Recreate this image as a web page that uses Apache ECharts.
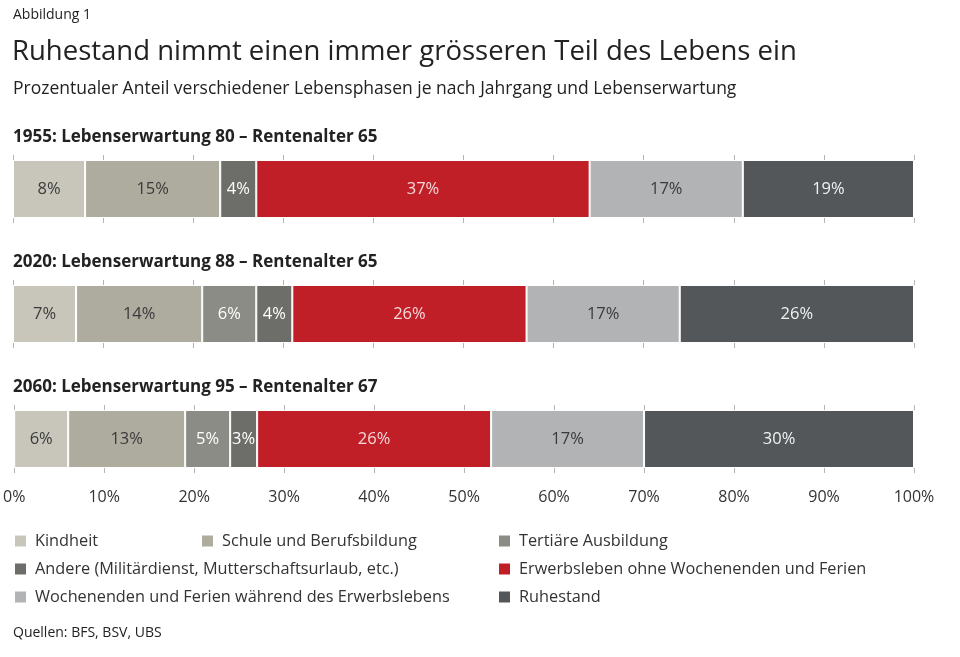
<!DOCTYPE html>
<html>
<head>
<meta charset="utf-8">
<script src="https://cdn.jsdelivr.net/npm/echarts@6/dist/echarts.min.js"></script>
<style>
    html, body { margin: 0; padding: 0; background: #fff; }
    #chart { width: 960px; height: 657px; }
</style>
</head>
<body>
<div id="chart"></div>
<script>
// Daten
var phases = [
    'Kindheit',
    'Schule und Berufsbildung',
    'Tertiäre Ausbildung',
    'Andere (Militärdienst, Mutterschaftsurlaub, etc.)',
    'Erwerbsleben ohne Wochenenden und Ferien',
    'Wochenenden und Ferien während des Erwerbslebens',
    'Ruhestand'
]
var barTitles = [
    '1955: Lebenserwartung 80 – Rentenalter 65',
    '2020: Lebenserwartung 88 – Rentenalter 65',
    '2060: Lebenserwartung 95 – Rentenalter 67'
]
var values1955 = [8, 15, 0, 4, 37, 17, 19]
var values2020 = [7, 14, 6, 4, 26, 17, 26]
var values2060 = [6, 13, 5, 3, 26, 17, 30]
var rows = [values1955, values2020, values2060]

var colors = ['#c8c6bb', '#aeab9f', '#8c8c86', '#6d6e69', '#c01f28', '#b2b3b5', '#53575a']
var labelColors = ['#3a3a3a', '#3a3a3a', '#ffffff', '#ffffff', '#f4d9da', '#3a3a3a', '#f2f2f2']

var font = 'Open Sans'
var myChart = echarts.init(document.getElementById('chart'))

var grids = [], xAxes = [], yAxes = [], series = [], titles = []

function addTitle(text, left, top, size, weight) { // Textzeile ohne Innenabstand
    titles.push({
        text: text, left: left, top: top, padding: 0,
        textStyle: { fontFamily: font, fontSize: size, fontWeight: weight || 'normal', color: '#222' }
    })
}

addTitle('Abbildung 1', 13, 8, 14)
addTitle('Ruhestand nimmt einen immer grösseren Teil des Lebens ein', 12, 38, 27.5)
addTitle('Prozentualer Anteil verschiedener Lebensphasen je nach Jahrgang und Lebenserwartung', 13, 80, 17.5)
addTitle('Quellen: BFS, BSV, UBS', 13, 626, 14)

rows.forEach(function (row, i) {
    var top = 160 + i * 125
    addTitle(barTitles[i], 13, top - 31, 17, 'bold')
    grids.push({ left: 13, right: 46, top: top, height: 58 })
    // unten
    xAxes.push({
        type: 'value', gridIndex: i, position: 'bottom', min: 0, max: 100, interval: 10,
        axisLine: { show: false },
        axisTick: { show: true, length: 5, lineStyle: { color: '#b5b5b5' } },
        splitLine: { show: false },
        axisLabel: {
            show: i === 2, margin: 21, formatter: '{value}%',
            fontFamily: font, fontSize: 16, color: '#333'
        }
    })
    // oben
    xAxes.push({
        type: 'value', gridIndex: i, position: 'top', min: 0, max: 100, interval: 10,
        axisLine: { show: false },
        axisTick: { show: true, length: 5, lineStyle: { color: '#b5b5b5' } },
        splitLine: { show: false },
        axisLabel: { show: false }
    })
    yAxes.push({ type: 'category', gridIndex: i, data: [barTitles[i]], show: false })

    row.forEach(function (v, k) {
        series.push({
            name: phases[k],
            type: 'bar',
            stack: 'row' + i,
            xAxisIndex: i * 2,
            yAxisIndex: i,
            barWidth: 58,
            data: [v],
            itemStyle: { color: colors[k], borderColor: '#fff', borderWidth: 1 },
            label: {
                show: true,
                position: 'inside',
                formatter: function (p) { return p.value ? p.value + '%' : '' },
                fontFamily: font, fontSize: 16.5, color: labelColors[k]
            },
            silent: true
        })
    })
})

function legendCol(left, names) {
    return {
        left: left, top: 533, orient: 'vertical', icon: 'rect', padding: 0,
        itemWidth: 13, itemHeight: 13, itemGap: 12,
        selectedMode: false,
        textStyle: { fontFamily: font, fontSize: 16.3, color: '#333', padding: [0, 0, 0, 3] },
        data: names
    }
}

var option = {
    animation: false,
    title: titles,
    legend: [
        legendCol(13, [phases[0], phases[3], phases[5]]),
        legendCol(200, [phases[1]]),
        legendCol(497, [phases[2], phases[4], phases[6]])
    ],
    grid: grids,
    xAxis: xAxes,
    yAxis: yAxes,
    series: series
}

myChart.setOption(option)
</script>
</body>
</html>
